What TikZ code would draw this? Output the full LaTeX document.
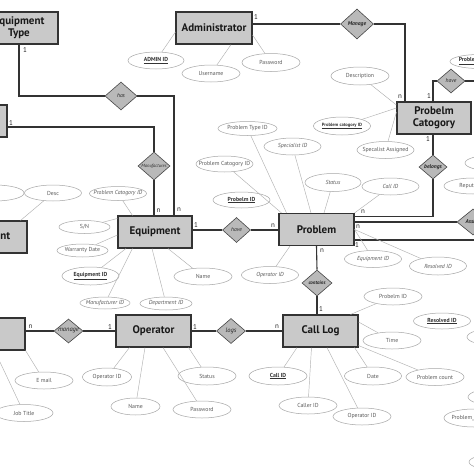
\documentclass[tikz,border=0pt]{standalone}
\usepackage{fontspec}
\setmainfont{PT Sans}
\usetikzlibrary{shapes.geometric}
\newcommand\entfont{\fontsize{11}{12}\selectfont\bfseries}
\newcommand\attrfont{\fontsize{5.8}{6}\selectfont}
\newcommand\relfont{\fontsize{5.6}{6}\selectfont\itshape}
\newcommand\cardfont{\fontsize{7}{8}\selectfont}
\tikzset{
 ent/.style={draw=black!80, fill=gray!42, line width=1.1pt, inner sep=0pt, font=\entfont, text=black!90, align=center},
 attr/.style={ellipse, draw=gray!70, line width=0.5pt, fill=white, inner sep=0pt},
 atext/.style={font=\attrfont, text=black!65, inner sep=0pt},
 akey/.style={font=\attrfont\bfseries, text=black!80, inner sep=0pt},
 aital/.style={font=\attrfont\itshape, text=black!65, inner sep=0pt},
 rel/.style={diamond, draw=gray!55!black, fill=gray!55, line width=0.6pt, inner sep=0pt},
 rtext/.style={font=\relfont, text=black!85, inner sep=0pt},
 conn/.style={draw=black!80, line width=1.1pt},
 aline/.style={draw=gray!60, line width=0.45pt},
 card/.style={font=\cardfont, text=black!85, inner sep=0pt},
}
\begin{document}
\begin{tikzpicture}[x=1pt,y=-1pt]
\useasboundingbox (0,0) rectangle (474,474);
\clip (0,0) rectangle (474,474);
\fill[white] (0,0) rectangle (474,474);

% ---------- entities
\node[ent, minimum width=78pt, minimum height=32pt] (eqtype) at (19,28) {Equipment\\Type};
\node[ent, minimum width=76pt, minimum height=32pt] (admin) at (214,28) {Administrator};
\node[ent, minimum width=74pt, minimum height=32pt] (pcat) at (434,118) {Probelm\\Catogory};
\node[ent, minimum width=68pt, minimum height=32pt] (leftA) at (-27,121) {};
\node[ent, minimum width=90pt, minimum height=32pt] (dept) at (-18,237) {Department};
\node[ent, minimum width=74pt, minimum height=32pt] (equip) at (155,232) {Equipment};
\node[ent, minimum width=75pt, minimum height=32pt] (problem) at (316.5,229.5) {Problem};
\node[ent, minimum width=66pt, minimum height=32pt] (leftB) at (-8,334) {};
\node[ent, minimum width=75pt, minimum height=32pt] (operator) at (153.5,331) {Operator};
\node[ent, minimum width=75pt, minimum height=32pt] (calllog) at (320.5,331) {Call Log};

% ---------- relationships
\node[rel, minimum width=32pt, minimum height=28pt, label={[rtext]center:has}] (has) at (121,96) {};
\node[rel, minimum width=33pt, minimum height=30pt, label={[rtext,font=\relfont\bfseries]center:Manage}] (manageTop) at (357,24) {};
\node[rel, minimum width=32pt, minimum height=28pt, label={[rtext,font=\fontsize{4.6}{5}\selectfont\itshape]center:Manufactures}] (manuf) at (154,166) {};
\node[rel, minimum width=28pt, minimum height=25pt, label={[rtext]center:have}] (have1) at (236.5,230) {};
\node[rel, minimum width=28pt, minimum height=24pt, label={[rtext]center:have}] (have2) at (451,81) {};
\node[rel, minimum width=28pt, minimum height=24pt, label={[rtext,font=\relfont\bfseries]center:belongs}] (belongs) at (433,167) {};
\node[rel, minimum width=32pt, minimum height=26pt, label={[rtext,font=\relfont\bfseries]center:Assign}] (assign) at (473,222) {};
\node[rel, minimum width=30pt, minimum height=26pt, label={[rtext,font=\fontsize{5}{6}\selectfont\itshape\bfseries]center:contains}] (contains) at (317,283) {};
\node[rel, minimum width=29pt, minimum height=24pt, label={[rtext,font=\fontsize{6.5}{7}\selectfont\itshape]center:manage}] (manage2) at (68.5,331) {};
\node[rel, minimum width=29pt, minimum height=25pt, label={[rtext,font=\fontsize{6.5}{7}\selectfont\itshape]center:logs}] (logs) at (231,331) {};

\coordinate (redgeA) at (480,81);
\coordinate (redgeB) at (480,240);

% ---------- relationship connectors
\draw[conn] (eqtype.south) |- (has.west);
\draw[conn] (has.east) -| ([xshift=19pt]equip.north);
\draw[conn] ([yshift=-6pt]leftA.east) -| (manuf.north);
\draw[conn] (manuf.south) -- (manuf.south |- equip.north);
\draw[conn] ([yshift=4pt]admin.east) -- (manageTop.west);
\draw[conn] (manageTop.east) -| ([xshift=-29pt]pcat.north);
\draw[conn] ([xshift=-1pt]pcat.north) |- (have2.west);
\draw[conn] (have2.east) -- (redgeA);
\draw[conn] (belongs.north) -- (belongs.north |- pcat.south);
\draw[conn] (belongs.south) |- ([yshift=13pt]problem.east);
\draw[conn] ([yshift=7.5pt]problem.east) -- (assign.west);
\draw[conn] ([yshift=-10.5pt]problem.east) -- (redgeB);
\draw[conn] ([yshift=2pt]equip.east) -- (have1.west);
\draw[conn] (have1.east) -- (have1.east -| problem.west);
\draw[conn] (problem.south) -- (contains.north);
\draw[conn] (contains.south) -- (contains.south |- calllog.north);
\draw[conn] (manage2.west -| leftB.east) -- (manage2.west);
\draw[conn] (manage2.east) -- (manage2.east -| operator.west);
\draw[conn] (operator.east) -- (logs.west);
\draw[conn] (logs.east) -- (logs.east -| calllog.west);

% ---------- cardinalities
\node[card] (k1) at (25,50) {1};
\node[card] (k2) at (179,210) {n};
\node[card] (k3) at (11,123) {1};
\node[card] (k4) at (158.5,211) {n};
\node[card] (k5) at (256,17) {1};
\node[card] (k6) at (400,97) {n};
\node[card] (k7) at (429,96) {1};
\node[card] (k8) at (428,139) {1};
\node[card] (k9) at (363,212) {n};
\node[card] (k10) at (358,227) {n};
\node[card] (k11) at (357,245) {1};
\node[card] (k12) at (196,225) {1};
\node[card] (k13) at (273,226) {n};
\node[card] (k14) at (322,251) {n};
\node[card] (k15) at (321,309) {1};
\node[card] (k16) at (30.5,327) {n};
\node[card] (k17) at (110,327) {1};
\node[card] (k18) at (195,327) {1};
\node[card] (k19) at (277,327) {n};

% ---------- attributes: administrator
\node[attr, minimum width=56pt, minimum height=17pt, label={[akey]center:\underline{ADMIN ID}}] (aAdminID) at (156,60.5) {};
\node[attr, minimum width=58pt, minimum height=17pt, label={[atext]center:Username}] (aUser) at (211,73.5) {};
\node[attr, minimum width=58pt, minimum height=18pt, label={[atext]center:Password}] (aPass) at (271,62.5) {};
\draw[aline] (aAdminID) -- ([yshift=-4pt]admin.west);
\draw[aline] (aUser) -- ([xshift=17pt]admin.south);
\draw[aline] (aPass) -- ([yshift=-7pt]admin.east);

% ---------- attributes: problem category
\node[attr, minimum width=58pt, minimum height=18pt, label={[atext]center:Description}] (aDesc) at (360,76) {};
\node[attr, minimum width=57pt, minimum height=18pt, label={[akey,font=\fontsize{4.6}{5}\selectfont\bfseries]center:\underline{Problem catogory ID}}] (aPcatID) at (342,126) {};
\node[attr, minimum width=57pt, minimum height=17pt, label={[atext]center:Specalist Assigned}] (aSpecAss) at (385.5,150) {};
\draw[aline] (aDesc) -- ([yshift=13pt]pcat.west);
\draw[aline] (aPcatID) -- ([yshift=10pt]pcat.west);
\draw[aline] (aSpecAss) -- ([yshift=6pt]pcat.west);

% ---------- attributes: problem
\node[attr, minimum width=59pt, minimum height=14pt, label={[atext]center:Problem Type ID}] (aPTypeID) at (247.5,128.5) {};
\node[attr, minimum width=57pt, minimum height=17pt, label={[aital]center:Specialist ID}] (aSpecID) at (292.5,146.5) {};
\node[attr, minimum width=57pt, minimum height=16pt, label={[atext]center:Problem Catogory ID}] (aPCatID2) at (224.5,164) {};
\node[attr, minimum width=57pt, minimum height=16pt, label={[akey]center:\underline{Probelm ID}}] (aProbID) at (241.5,200) {};
\node[attr, minimum width=56pt, minimum height=18pt, label={[aital]center:Status}] (aStatus) at (333,182.5) {};
\node[attr, minimum width=57pt, minimum height=17pt, label={[aital]center:Call ID}] (aCallID) at (390.5,186.5) {};
\node[attr, minimum width=57pt, minimum height=17pt, label={[aital]center:Equipment ID}] (aEqID2) at (373,259) {};
\node[attr, minimum width=57pt, minimum height=18pt, label={[aital]center:Resolved ID}] (aResID) at (438,266) {};
\node[attr, minimum width=57pt, minimum height=17pt, label={[aital]center:Operator ID}] (aOpID2) at (270,275) {};
\draw[aline] (aPTypeID) -- ([xshift=-30pt]problem.north);
\draw[aline] (aSpecID) -- ([xshift=-5.5pt]problem.north);
\draw[aline] (aPCatID2) -- ([xshift=-35pt]problem.north);
\draw[aline] (aStatus) -- ([xshift=7.5pt]problem.north);
\draw[aline] (aCallID) -- (problem.north east);
\draw[aline] (aEqID2) -- (problem.east);
\draw[aline] (aResID) -- (problem.east);
\draw[aline] (aOpID2) -- ([xshift=-26.5pt]problem.south);

% ---------- attributes: equipment
\node[attr, minimum width=57pt, minimum height=14pt, label={[aital]center:Problem Catogory ID}] (aPCatID3) at (118,193.5) {};
\node[attr, minimum width=51pt, minimum height=13pt, label={[atext]center:S/N}] (aSN) at (84.5,227) {};
\node[attr, minimum width=51pt, minimum height=13pt, label={[atext]center:Warranty Date}] (aWarr) at (82.5,250.5) {};
\node[attr, minimum width=57pt, minimum height=18pt, label={[akey]center:\underline{Equipment ID}}] (aEqID) at (90.5,276) {};
\node[attr, minimum width=50pt, minimum height=12pt, label={[aital]center:Manufacturer ID}] (aManID) at (105,303) {};
\node[attr, minimum width=52pt, minimum height=13pt, label={[aital]center:Department ID}] (aDepID) at (166,303.5) {};
\node[attr, minimum width=58pt, minimum height=17pt, label={[atext]center:Name}] (aName) at (203,276.5) {};
\draw[aline] (aPCatID3) -- ([xshift=15pt]equip.north west);
\draw[aline] (aSN) -- ([yshift=-3pt]equip.north west);
\draw[aline] (aWarr) -- ([yshift=-3pt]equip.west);
\draw[aline] (aEqID) -- ([xshift=8.5pt]equip.south west);
\draw[aline] (aManID) -- ([xshift=15pt]equip.south west);
\draw[aline] (aDepID) -- ([xshift=-3pt]equip.south);
\draw[aline] (aName) -- ([xshift=13pt]equip.south);

% ---------- attributes: department
\node[attr, minimum width=58pt, minimum height=16pt] (aDeptX) at (-5,193) {};
\node[attr, minimum width=57pt, minimum height=16pt, label={[atext]center:Desc}] (aDesc2) at (53,193) {};
\draw[aline] (aDesc2) -- ([xshift=-7pt]dept.north east);

% ---------- attributes: operator
\node[attr, minimum width=49pt, minimum height=18pt, label={[atext]center:Operator ID}] (aOpID) at (107,377) {};
\node[attr, minimum width=49pt, minimum height=17pt, label={[atext]center:Name}] (aOpName) at (135.5,406.5) {};
\node[attr, minimum width=58pt, minimum height=18pt, label={[atext]center:Status}] (aOpStatus) at (207,376) {};
\node[attr, minimum width=58pt, minimum height=17pt, label={[atext]center:Password}] (aOpPass) at (202,409.5) {};
\draw[aline] (aOpID) -- ([xshift=14pt]operator.south west);
\draw[aline] (aOpName) -- ([xshift=-8.5pt]operator.south);
\draw[aline] (aOpStatus) -- ([xshift=-3pt]operator.south east);
\draw[aline] (aOpPass) -- ([xshift=9.5pt]operator.south);

% ---------- attributes: left entity
\node[attr, minimum width=58pt, minimum height=17pt, label={[atext]center:E mail}] (aEmail) at (44,380.5) {};
\node[attr, minimum width=58pt, minimum height=17pt, label={[atext]center:Job Title}] (aJob) at (24,413) {};
\draw[aline] (aEmail) -- (leftB.south east);
\draw[aline] (aJob) -- ([xshift=-31pt]leftB.south east);

% ---------- attributes: call log
\node[attr, minimum width=58pt, minimum height=18pt, label={[akey]center:\underline{Call ID}}] (aCallID3) at (278,376) {};
\node[attr, minimum width=58pt, minimum height=17pt, label={[atext]center:Caller ID}] (aCaller) at (308,405.5) {};
\node[attr, minimum width=58pt, minimum height=17pt, label={[atext]center:Operator ID}] (aOpID3) at (362,416.5) {};
\node[attr, minimum width=57pt, minimum height=18pt, label={[atext]center:Date}] (aDate) at (373,376) {};
\node[attr, minimum width=58pt, minimum height=17pt, label={[atext]center:Time}] (aTime) at (392,340.5) {};
\node[attr, minimum width=58pt, minimum height=17pt, label={[atext]center:Problem count}] (aPCount) at (435,377) {};
\node[attr, minimum width=58pt, minimum height=17pt, label={[atext]center:Probelm ID}] (aProbID3) at (393,296.5) {};
\node[attr, minimum width=57pt, minimum height=16pt, label={[akey]center:\underline{Resolved ID}}] (aResID2) at (442,321) {};
\draw[aline] (aCallID3) -- ([xshift=-23.5pt]calllog.south);
\draw[aline] (aCaller) -- ([xshift=-9pt]calllog.south);
\draw[aline] (aOpID3) -- ([xshift=6.5pt]calllog.south);
\draw[aline] (aDate) -- ([xshift=-4pt]calllog.south east);
\draw[aline] (aTime) -- ([yshift=9pt]calllog.east);
\draw[aline] (aPCount) -- ([yshift=2pt]calllog.south east);
\draw[aline] (aProbID3) -- ([xshift=-8pt]calllog.north east);

% ---------- partial attributes at right edge
\node[attr, minimum width=58pt, minimum height=14pt, label={[akey]center:\underline{Problem Type ID}}] (pTopR) at (479,61.5) {};
\node[attr, minimum width=58pt, minimum height=16pt] (pR3) at (494,163) {};
\node[attr, minimum width=58pt, minimum height=16pt, label={[atext]center:Reputation}] (pRepu) at (473,186) {};
\node[attr, minimum width=58pt, minimum height=17pt] (pR4) at (496,337) {};
\node[attr, minimum width=58pt, minimum height=17pt, label={[akey]center:\underline{Specialist ID}}] (pR5) at (497,397) {};
\node[attr, minimum width=60pt, minimum height=18pt, label={[atext]center:Problem\_Category}] (pR6) at (474,418) {};
\node[attr, minimum width=58pt, minimum height=16pt] (pR7) at (498,462) {};
\end{tikzpicture}
\end{document}
